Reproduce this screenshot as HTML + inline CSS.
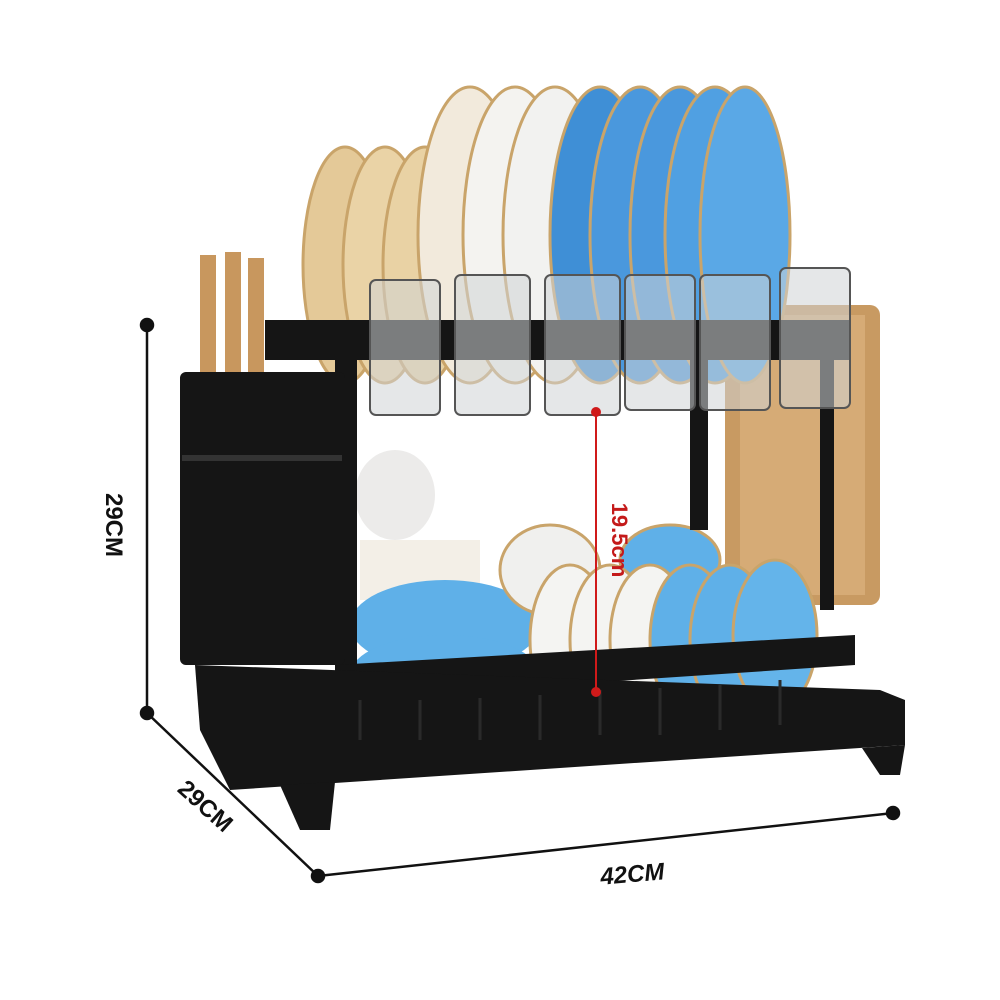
<!DOCTYPE html>
<html><head><style>body{margin:0;background:#fff}svg{display:block}</style></head>
<body>
<svg width="1000" height="1000" viewBox="0 0 1000 1000" xmlns="http://www.w3.org/2000/svg">
<rect width="1000" height="1000" fill="#fff"/>
<g stroke="#111" stroke-width="2.5" fill="#111">
<line x1="147" y1="325" x2="147" y2="713"/>
<line x1="147" y1="713" x2="318" y2="876"/>
<line x1="318" y1="876" x2="893" y2="813"/>
<circle cx="147" cy="325" r="6"/><circle cx="147" cy="713" r="6"/>
<circle cx="318" cy="876" r="6"/><circle cx="893" cy="813" r="6"/>
</g>
<g font-family="Liberation Sans, sans-serif" font-weight="bold" font-size="24" fill="#111">
<text transform="translate(106,525) rotate(90)" text-anchor="middle">29CM</text>
<text transform="translate(200,812) rotate(42)" text-anchor="middle">29CM</text>
<text transform="translate(633,882) rotate(-5)" text-anchor="middle" font-style="italic">42CM</text>
</g>
<rect x="725" y="305" width="155" height="300" rx="10" fill="#c89a62"/>
<rect x="740" y="315" width="125" height="280" fill="#d6ab76"/>
<g>
<ellipse cx="345" cy="265" rx="42" ry="118" fill="#e4c998" stroke="#c9a46a" stroke-width="3"/>
<ellipse cx="385" cy="265" rx="42" ry="118" fill="#ead3a6" stroke="#c9a46a" stroke-width="3"/>
<ellipse cx="425" cy="265" rx="42" ry="118" fill="#e9d2a4" stroke="#c9a46a" stroke-width="3"/>
<ellipse cx="470" cy="235" rx="52" ry="148" fill="#f2eadc" stroke="#c9a46a" stroke-width="3"/>
<ellipse cx="515" cy="235" rx="52" ry="148" fill="#f4f3f0" stroke="#c9a46a" stroke-width="3"/>
<ellipse cx="555" cy="235" rx="52" ry="148" fill="#f2f2f0" stroke="#c9a46a" stroke-width="3"/>
<ellipse cx="600" cy="235" rx="50" ry="148" fill="#3f8fd6" stroke="#c9a46a" stroke-width="3"/>
<ellipse cx="640" cy="235" rx="50" ry="148" fill="#4a98dd" stroke="#c9a46a" stroke-width="3"/>
<ellipse cx="680" cy="235" rx="50" ry="148" fill="#4a98dd" stroke="#c9a46a" stroke-width="3"/>
<ellipse cx="715" cy="235" rx="50" ry="148" fill="#50a0e2" stroke="#c9a46a" stroke-width="3"/>
<ellipse cx="745" cy="235" rx="45" ry="148" fill="#5aa8e6" stroke="#c9a46a" stroke-width="3"/>
</g>
<rect x="200" y="255" width="16" height="120" fill="#c8975e"/>
<rect x="225" y="252" width="16" height="120" fill="#c8975e"/>
<rect x="248" y="258" width="16" height="120" fill="#c8975e"/>
<rect x="360" y="540" width="120" height="60" fill="#f3efe7"/>
<ellipse cx="445" cy="625" rx="95" ry="45" fill="#5fb0e8"/>
<ellipse cx="445" cy="675" rx="95" ry="40" fill="#5fb0e8"/>
<ellipse cx="395" cy="495" rx="40" ry="45" fill="#ecebea"/>
<g stroke="#c9a46a" stroke-width="3">
<ellipse cx="550" cy="570" rx="50" ry="45" fill="#f0f0ee"/>
<ellipse cx="670" cy="560" rx="50" ry="35" fill="#5fb0e8"/>
<ellipse cx="570" cy="640" rx="40" ry="75" fill="#f4f4f2"/>
<ellipse cx="610" cy="640" rx="40" ry="75" fill="#f4f4f2"/>
<ellipse cx="650" cy="640" rx="40" ry="75" fill="#f4f4f2"/>
<ellipse cx="690" cy="640" rx="40" ry="75" fill="#5fb0e8"/>
<ellipse cx="730" cy="640" rx="40" ry="75" fill="#5fb0e8"/>
<ellipse cx="775" cy="635" rx="42" ry="75" fill="#64b4ea"/>
</g>
<g fill="#151515">
<rect x="265" y="320" width="585" height="40"/>
<rect x="335" y="320" width="22" height="345"/>
<rect x="690" y="360" width="18" height="170"/>
<rect x="820" y="360" width="14" height="250"/>
<path d="M335 665 L855 635 L855 665 L335 700 Z"/>
<rect x="180" y="372" width="165" height="293" rx="6"/>
<path d="M195 665 L880 690 L905 700 L905 745 L230 790 L200 730 Z"/>
<path d="M280 785 L335 782 L330 830 L300 830 Z"/>
<path d="M862 748 L905 745 L900 775 L880 775 Z"/>
</g>
<g stroke="#2a2a2a" stroke-width="3">
<line x1="360" y1="700" x2="360" y2="740"/><line x1="420" y1="700" x2="420" y2="740"/>
<line x1="480" y1="698" x2="480" y2="740"/><line x1="540" y1="695" x2="540" y2="740"/>
<line x1="600" y1="690" x2="600" y2="735"/><line x1="660" y1="688" x2="660" y2="735"/>
<line x1="720" y1="685" x2="720" y2="730"/><line x1="780" y1="680" x2="780" y2="725"/>
</g>
<rect x="182" y="455" width="160" height="6" fill="#333"/>
<g fill="#cfd3d6" fill-opacity="0.55" stroke="#555" stroke-width="2">
<rect x="370" y="280" width="70" height="135" rx="6"/>
<rect x="455" y="275" width="75" height="140" rx="6"/>
<rect x="545" y="275" width="75" height="140" rx="6"/>
<rect x="625" y="275" width="70" height="135" rx="6"/>
<rect x="700" y="275" width="70" height="135" rx="6"/>
<rect x="780" y="268" width="70" height="140" rx="6"/>
</g>
<line x1="596" y1="412" x2="596" y2="692" stroke="#d01a1a" stroke-width="2"/>
<circle cx="596" cy="412" r="5" fill="#d01a1a"/><circle cx="596" cy="692" r="5" fill="#d01a1a"/>
<text transform="translate(612,540) rotate(90)" text-anchor="middle" font-family="Liberation Sans, sans-serif" font-weight="bold" font-size="22" fill="#c41a1a">19.5cm</text>
</svg>
</body></html>
